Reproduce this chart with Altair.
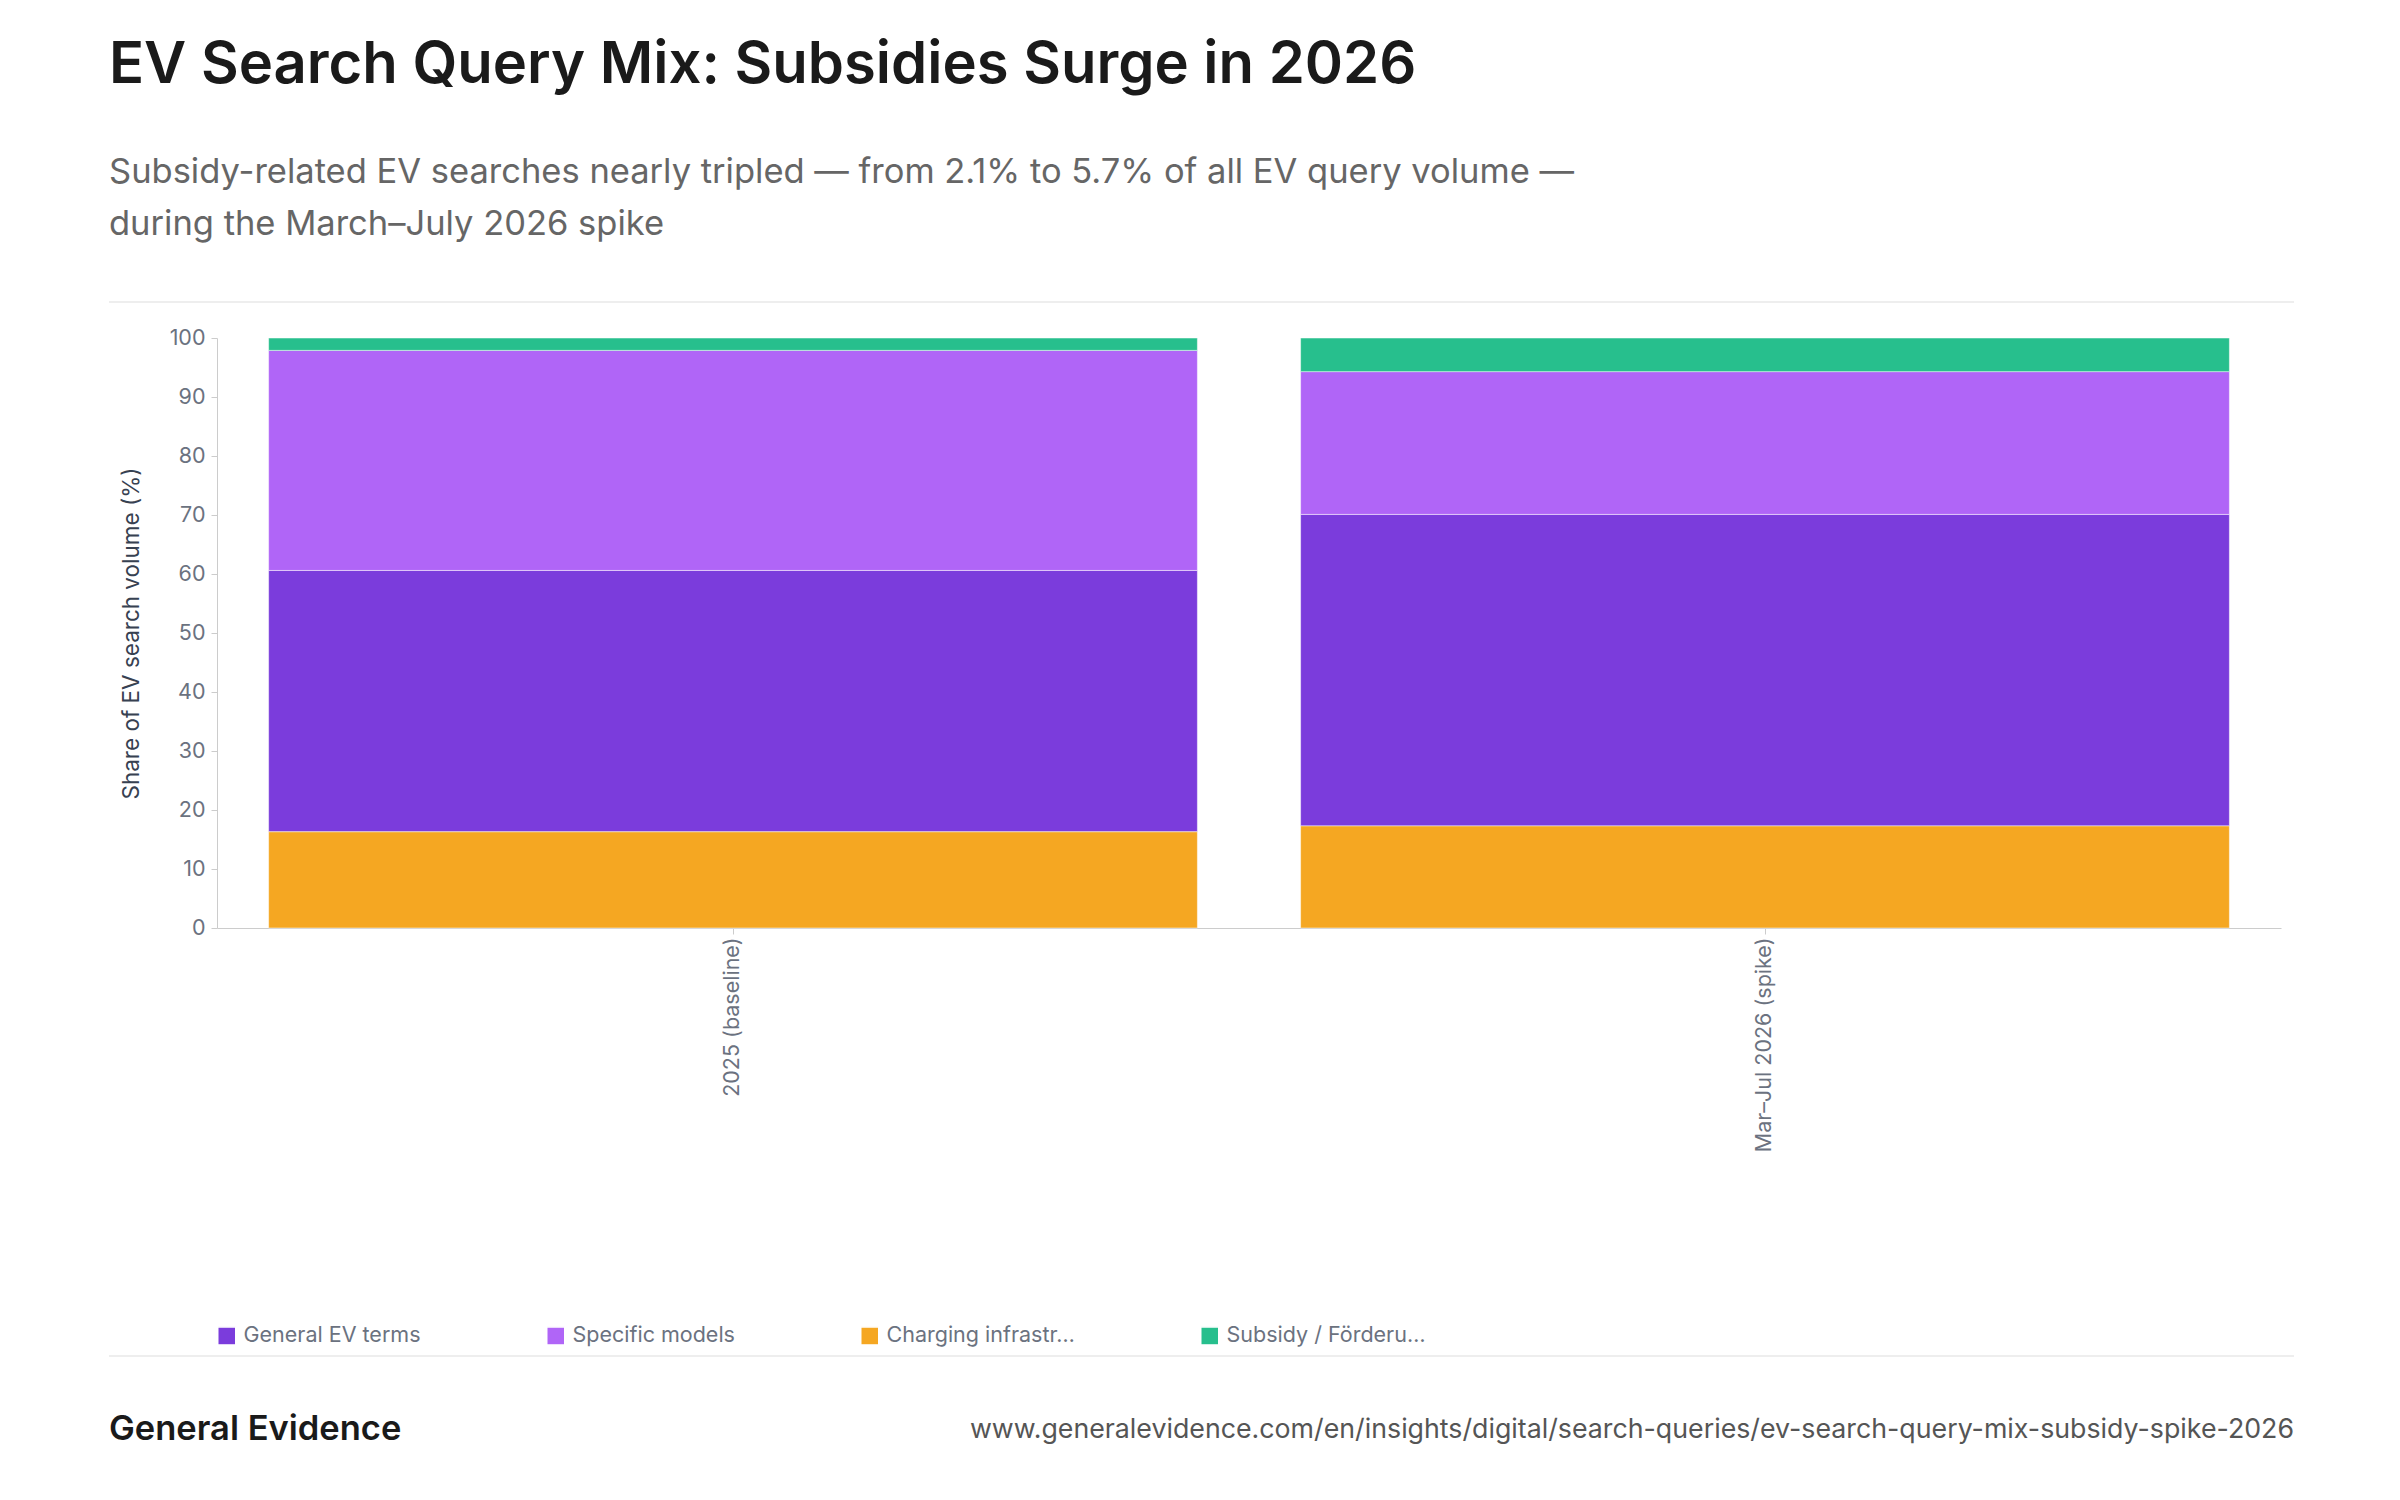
import altair as alt
import pandas as pd

periods = ["2025 (baseline)", "Mar–Jul 2026 (spike)"]
categories = ["General EV terms", "Specific models", "Charging infrastructure", "Subsidy / Förderung"]
colors = ["#6D28D9", "#A855F7", "#F59E0B", "#10B981"]
stack_rank = [1, 2, 0, 3]  # charging at bottom, subsidy on top
general = [44.3, 52.8]
specific = [37.3, 24.2]
charging = [16.3, 17.3]
subsidy = [2.1, 5.7]

series = [general, specific, charging, subsidy]
rows = []
for ci, cat in enumerate(categories):
    for pi, per in enumerate(periods):
        rows.append({"period": per, "category": cat, "share": series[ci][pi], "rank": stack_rank[ci]})
df = pd.DataFrame(rows)

FONT = "Inter"
W, H = 2064, 590

bars = alt.Chart(df).mark_bar(opacity=0.9, stroke="white", strokeWidth=1, strokeOpacity=0.5).encode(
    x=alt.X("period:N", sort=periods, title=None,
            scale=alt.Scale(paddingInner=0.1, paddingOuter=0.05),
            axis=alt.Axis(labelAngle=270, labelFontSize=21.5, labelColor="#6b7280", labelFont=FONT,
                          domainColor="#cccccc", tickColor="#cccccc", tickSize=6, labelPadding=3,
                          labelLimit=400)),
    y=alt.Y("share:Q", stack="zero", title="Share of EV search volume (%)",
            scale=alt.Scale(domain=[0, 100]),
            axis=alt.Axis(values=list(range(0, 101, 10)), grid=False, labelFontSize=21.5,
                          labelColor="#6b7280", labelFont=FONT, domainColor="#cccccc",
                          tickColor="#cccccc", tickSize=6, labelPadding=6,
                          titleFontSize=22.5, titleColor="#374151", titleFont=FONT,
                          titleFontWeight="normal", titlePadding=26)),
    color=alt.Color("category:N", sort=categories,
                    scale=alt.Scale(domain=categories, range=colors),
                    legend=alt.Legend(title=None, orient="none", legendX=-1, legendY=987,
                                      direction="horizontal", symbolType="square", symbolSize=324,
                                      symbolOpacity=0.9, labelFontSize=21.5, labelColor="#6b7280",
                                      labelFont=FONT, labelLimit=400, columnPadding=122,
                                      labelOffset=6, padding=0,
                                      labelExpr="length(datum.label) > 18 ? substring(datum.label, 0, 17) + '…' : datum.label")),
    order=alt.Order("rank:Q", sort="ascending"),
)

rule_df = pd.DataFrame({"yy": [-36, 1018]})
rules = alt.Chart(rule_df).mark_rule(color="#eeeeee", strokeWidth=2).encode(
    x=alt.value(-108), x2=alt.value(2077), y=alt.Y("yy:Q", scale=None, axis=None)
)

brand = alt.Chart(pd.DataFrame({"t": ["General Evidence"]})).mark_text(
    align="left", baseline="middle", fontSize=34.5, fontWeight=600, font=FONT, color="#1a1a1a"
).encode(x=alt.value(-108), y=alt.value(1092), text="t:N")

url = alt.Chart(pd.DataFrame({"t": ["www.generalevidence.com/en/insights/digital/search-queries/ev-search-query-mix-subsidy-spike-2026"]})).mark_text(
    align="right", baseline="middle", fontSize=26.75, font=FONT, color="#555555"
).encode(x=alt.value(2077), y=alt.value(1092), text="t:N")

chart = alt.layer(bars, rules, brand, url).properties(
    width=W, height=H,
    autosize=alt.AutoSizeParams(type="none"),
    padding={"left": 209, "top": 330, "right": 111, "bottom": 564},
    background="white",
    title=alt.Title(
        "EV Search Query Mix: Subsidies Surge in 2026",
        subtitle=["Subsidy-related EV searches nearly tripled — from 2.1% to 5.7% of all EV query volume —",
                  "during the March–July 2026 spike"],
        anchor="start", frame="group", dx=-108, offset=60,
        font=FONT, fontSize=58, fontWeight=600, color="#1a1a1a",
        subtitleFont=FONT, subtitleFontSize=34.5, subtitleColor="#666666",
        subtitleFontWeight="normal", subtitleLineHeight=52, subtitlePadding=61,
    ),
).configure_view(stroke=None)

chart.save("out.html", embed_options={"renderer": "svg", "actions": False})
